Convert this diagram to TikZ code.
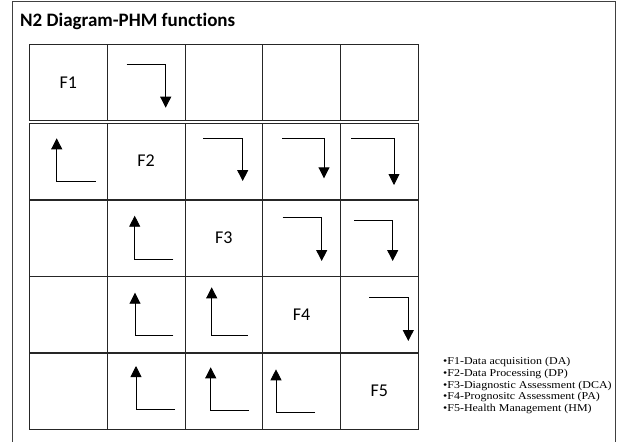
\documentclass[tikz,border=0pt]{standalone}
\usepackage{fontspec}
\setmainfont{Carlito}[Ligatures={NoCommon}]
\newfontfamily\tnr{Liberation Serif}[FakeStretch=1.14]
\usetikzlibrary{arrows.meta}
\begin{document}
\begin{tikzpicture}[x=1pt,y=-1pt,
  cell/.style={draw=black!85, line width=0.9pt, rectangle, minimum width=77.7pt, minimum height=76pt, inner sep=0pt, outer sep=0pt},
  flabel/.style={font=\fontsize{18}{20}\selectfont},
  flow/.style={draw=black, line width=0.9pt, -{Triangle[width=11pt,length=11pt]}},
  frame/.style={draw=black!75, line width=0.8pt}]
\useasboundingbox (0,0) rectangle (619,442);
% outer frame (open at bottom)
\draw[frame] (12,442) -- (12,1.5) -- (615,1.5) -- (615,442);
\node[anchor=base west, inner sep=0pt, font=\fontsize{19}{21}\selectfont\bfseries] (title) at (20,26.5) {N2 Diagram-PHM functions};
% cells
\foreach \r/\yc in {1/82.7, 2/161, 3/238.2, 4/314.9, 5/391}{
  \foreach \c/\xc in {1/68.4, 2/146.1, 3/223.9, 4/301.6, 5/379.3}{
    \node[cell] (c\r\c) at (\xc,\yc) {};
  }
}
\node[flabel] at (c11) (l1) {F1};
\node[flabel] at (c22) (l2) {F2};
\node[flabel] at (c33) (l3) {F3};
\node[flabel] at (c44) (l4) {F4};
\node[flabel] at (c55) (l5) {F5};
% down arrows (feed-forward)
\draw[flow] (126.7,64.3) -| (165.7,107.7);
\draw[flow] (203.3,138) -| (242.7,181);
\draw[flow] (282.3,138) -| (324,178.3);
\draw[flow] (351,138.5) -| (394,185);
\draw[flow] (282.7,217.7) -| (321.7,261);
\draw[flow] (354,220.7) -| (392.7,261);
\draw[flow] (369,297.7) -| (408.3,341);
% up arrows (feedback)
\draw[flow] (95.7,181.7) -| (56.7,138.3);
\draw[flow] (173.3,259.3) -| (134.7,215.7);
\draw[flow] (173.3,335.7) -| (135,292.7);
\draw[flow] (247.7,335.7) -| (211.7,287.3);
\draw[flow] (175,409.3) -| (136,366);
\draw[flow] (249,410.7) -| (210.7,367.3);
\draw[flow] (315,412.7) -| (276,369.3);
% legend
\node[anchor=north west, align=left, inner sep=0pt, font=\tnr\fontsize{10.5}{11.67}\selectfont] (legend) at (443,357.5) {%
\textbullet F1-Data acquisition (DA)\\
\textbullet F2-Data Processing (DP)\\
\textbullet F3-Diagnostic Assessment (DCA)\\
\textbullet F4-Prognositc Assessment (PA)\\
\textbullet F5-Health Management (HM)};
\end{tikzpicture}
\end{document}
